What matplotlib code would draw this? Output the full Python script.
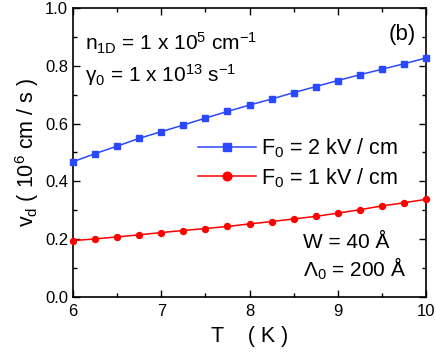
import matplotlib
matplotlib.use("Agg")
import matplotlib.pyplot as plt
from matplotlib.ticker import MultipleLocator

plt.rcParams['font.family'] = ['Liberation Sans', 'DejaVu Sans']
plt.rcParams['mathtext.fontset'] = 'custom'
plt.rcParams['mathtext.rm'] = 'Liberation Sans'
plt.rcParams['mathtext.it'] = 'Liberation Sans'
plt.rcParams['mathtext.default'] = 'regular'

T = [6.0, 6.25, 6.5, 6.75, 7.0, 7.25, 7.5, 7.75, 8.0, 8.25, 8.5, 8.75, 9.0, 9.25, 9.5, 9.75, 10.0]
v_2kV = [0.468, 0.496, 0.522, 0.549, 0.572, 0.595, 0.619, 0.642, 0.664, 0.685, 0.707,
         0.728, 0.749, 0.769, 0.788, 0.807, 0.827]
v_1kV = [0.195, 0.201, 0.208, 0.215, 0.223, 0.230, 0.237, 0.244, 0.253, 0.261, 0.270,
         0.279, 0.290, 0.302, 0.315, 0.326, 0.338]
labels = [r'F$_0$ = 2 kV / cm', r'F$_0$ = 1 kV / cm']

fig = plt.figure(figsize=(4.36, 3.55), dpi=100)
ax = fig.add_axes([73/436, 1-297/355, (426-73)/436, (297-8)/355])

ax.plot(T, v_2kV, '-s', color='#2a48ff', lw=1.1, ms=4, label=labels[0], clip_on=False, zorder=3)
ax.plot(T, v_1kV, '-o', color='#ff0000', lw=1.1, ms=4.3, label=labels[1], clip_on=False, zorder=3)

ax.set_xlim(6, 10)
ax.set_ylim(0, 1.0)
ax.xaxis.set_major_locator(MultipleLocator(1))
ax.xaxis.set_minor_locator(MultipleLocator(0.5))
ax.yaxis.set_major_locator(MultipleLocator(0.2))
ax.yaxis.set_minor_locator(MultipleLocator(0.1))
ax.tick_params(which='both', direction='in', top=True, right=True, labelsize=12, width=1)
ax.tick_params(which='major', length=5)
ax.tick_params(which='minor', length=3)
ax.tick_params(axis='x', pad=5)
for s in ax.spines.values():
    s.set_linewidth(1.2)

ax.set_xlabel('T    ( K )', fontsize=15.5, labelpad=5)
ax.set_ylabel(r'v$_d$ ( 10$^6$ cm / s )', fontsize=15.5, labelpad=3)

leg = ax.legend(loc='center left', bbox_to_anchor=(0.355, 0.464), frameon=False, fontsize=15.5,
                handlelength=2.7, handletextpad=0.2, labelspacing=0.28, borderaxespad=0,
                borderpad=0, markerscale=1.45)

ax.text(0.035, 0.852, r'n$_{1D}$ = 1 x 10$^5$ cm$^{-1}$', transform=ax.transAxes, fontsize=15)
ax.text(0.035, 0.745, r'$\gamma_0$ = 1 x 10$^{13}$ s$^{-1}$', transform=ax.transAxes, fontsize=15)
ax.text(0.895, 0.89, '(b)', transform=ax.transAxes, fontsize=16)
ax.text(0.652, 0.17, 'W = 40 Å', transform=ax.transAxes, fontsize=15)
ax.text(0.652, 0.069, r'$\Lambda_0$ = 200 Å', transform=ax.transAxes, fontsize=15)

fig.savefig('out.png', dpi=100)
